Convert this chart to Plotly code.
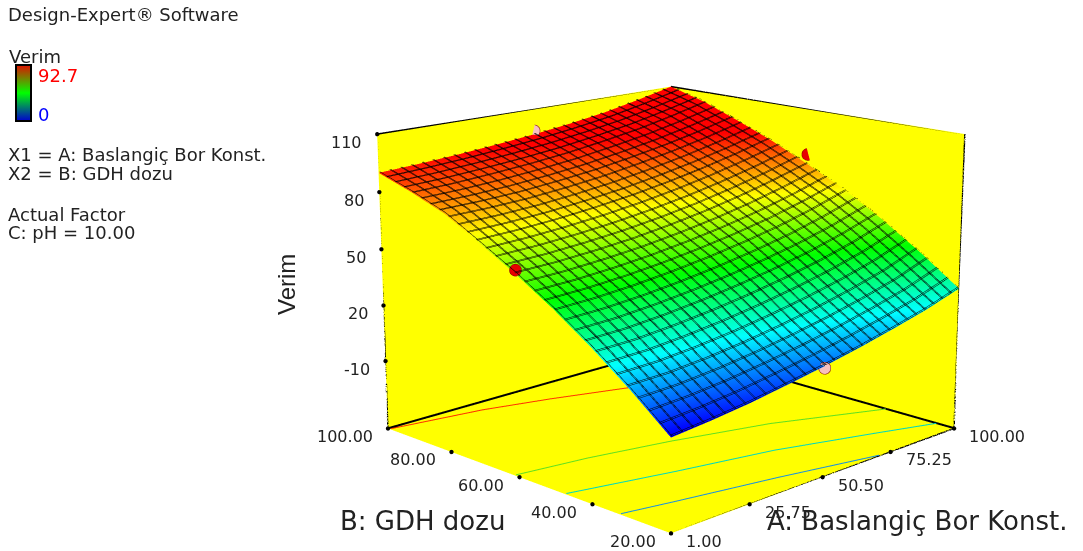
import plotly.graph_objects as go

# Factor grids
A_vals = [1, 13.4, 25.75, 38.1, 50.5, 62.9, 75.25, 87.6, 100]
B_vals = [20, 30, 40, 50, 60, 70, 80, 90, 100]
# Verim values: rows follow B_vals, columns follow A_vals
verim = [
    [-1.0, 0.9, 3.3, 6.5, 9.9, 13.8, 18.2, 23.0, 29.0],
    [15.5, 15.9, 17.6, 20.1, 23.35, 27.2, 31.7, 37.0, 44.0],
    [30.5, 31.0, 32.75, 35.1, 38.1, 41.7, 45.95, 51.2, 57.5],
    [44.0, 44.7, 46.2, 48.4, 51.2, 54.6, 58.6, 63.6, 69.5],
    [56.0, 56.5, 57.8, 59.6, 62.25, 65.5, 69.5, 74.2, 79.5],
    [66.6, 67.3, 68.6, 70.5, 72.9, 76.0, 79.7, 84.0, 88.9],
    [77.0, 77.2, 78.0, 79.7, 81.9, 84.9, 88.3, 92.3, 97.0],
    [84.0, 84.7, 86.0, 87.6, 89.7, 92.5, 95.7, 99.8, 104.5],
    [90.0, 91.0, 92.3, 94.0, 96.0, 98.5, 101.5, 105.5, 110.0],
]
A_ticks = [1, 25.75, 50.5, 75.25, 100]
A_labels = ["1.00", "25.75", "50.50", "75.25", "100.00"]
B_ticks = [20, 40, 60, 80, 100]
B_labels = ["20.00", "40.00", "60.00", "80.00", "100.00"]
Z_ticks = [-10, 20, 50, 80, 110]
Z_labels = ["-10", "20", "50", "80", "110"]
Z_FLOOR = -47
Z_TOP = 110
MESH_CELLS = 30

# Floor contours (A, B)
red_A, red_B = [1, 26.6, 44.9, 64.8, 100], [99, 95.3, 90.9, 85.2, 72]
green_A, green_B = [1, 20.8, 42.9, 70, 100], [61, 58.4, 54.2, 47.7, 37]
cyan_A, cyan_B = [1, 29, 56, 82.5, 100], [47, 41.2, 36.2, 29, 24]
blue_A, blue_B = [1, 15.4, 42.8, 71], [32.6, 30, 25.4, 20]

# Design points
pts_red_A, pts_red_B, pts_red_Z = [1, 100], [60, 60], [58, 85]
pts_pink_A, pts_pink_B, pts_pink_Z = [50.5, 50.5], [20, 100], [9, 98]

surface_scale = [[0, "#0000ff"], [0.25, "#00ffff"], [0.5, "#00ff00"], [0.75, "#ffff00"], [1, "#ff0000"]]
bar_scale = [[0, "#0000d0"], [0.5, "#00ff00"], [1, "#e01000"]]

FONT = "DejaVu Sans"
TXT = "#222222"
# The camera's field of view is fixed, so a long lens needs a tall canvas; only its window-sized part shows.
H = 1714
SHIFT = 573

fig = go.Figure()
flat = dict(ambient=1, diffuse=0, specular=0, roughness=1, fresnel=0)
fig.add_trace(go.Surface(x=A_vals, y=B_vals, z=verim, cmin=0, cmax=92.7, colorscale=surface_scale,
                         showscale=False, lighting=flat))
# mesh: contour lines are one pixel wide, so a close pair drawn just above the surface gives the bolder line
mesh_z = [[v + 0.5 for v in row] for row in verim]
for dA, dB in [(0, 0), (0.33, 0.27)]:
    fig.add_trace(go.Surface(
        x=A_vals, y=B_vals, z=mesh_z, hidesurface=True, showscale=False, hoverinfo="skip",
        contours=dict(
            x=dict(show=True, start=1 + dA, end=100, size=99 / MESH_CELLS, color="#000000", width=2),
            y=dict(show=True, start=20 + dB, end=100, size=80 / MESH_CELLS, color="#000000", width=2),
        ),
    ))

# box frame
fx = [1, 1, 100, None, 1, 1, 100, 100, None, 100, 100, None, 100, 100]
fy = [100, 20, 20, None, 100, 100, 100, 20, None, 20, 20, None, 100, 100]
fz = [Z_FLOOR, Z_FLOOR, Z_FLOOR, None, Z_FLOOR, Z_TOP, Z_TOP, Z_TOP, None, Z_TOP, Z_FLOOR, None, Z_FLOOR, Z_TOP]
fig.add_trace(go.Scatter3d(x=fx, y=fy, z=fz, mode="lines", line=dict(color="black", width=3),
                           showlegend=False, hoverinfo="skip"))
# back edges of the floor, kept just off the walls so they stay visible
fig.add_trace(go.Scatter3d(x=[1, 99.5, 99.5], y=[99.5, 99.5, 20], z=[Z_FLOOR + 0.6] * 3, mode="lines",
                           line=dict(color="black", width=4), showlegend=False, hoverinfo="skip"))

# tick dots
fig.add_trace(go.Scatter3d(
    x=A_ticks + [1] * len(B_ticks) + [1] * len(Z_ticks),
    y=[20] * len(A_ticks) + B_ticks + [100] * len(Z_ticks),
    z=[Z_FLOOR] * (len(A_ticks) + len(B_ticks)) + Z_ticks,
    mode="markers", marker=dict(size=2.5, color="black"), showlegend=False, hoverinfo="skip"))

for xs, ys, col in [(red_A, red_B, "#ff3000"), (green_A, green_B, "#60e020"),
                    (cyan_A, cyan_B, "#00d8c0"), (blue_A, blue_B, "#1890e0")]:
    fig.add_trace(go.Scatter3d(x=xs, y=ys, z=[Z_FLOOR + 0.5] * len(xs), mode="lines",
                               line=dict(color=col, width=2), showlegend=False, hoverinfo="skip"))

fig.add_trace(go.Scatter3d(x=pts_red_A, y=pts_red_B, z=pts_red_Z, mode="markers",
                           marker=dict(size=7, color="#e80000", line=dict(color="#800000", width=1)),
                           showlegend=False))
fig.add_trace(go.Scatter3d(x=pts_pink_A, y=pts_pink_B, z=pts_pink_Z, mode="markers",
                           marker=dict(size=7, color="#f8c0c0", line=dict(color="#800000", width=1)),
                           showlegend=False))

# colour key
fig.add_trace(go.Scatter3d(
    x=[1, 1], y=[20, 20], z=[0, 0], mode="markers", showlegend=False, hoverinfo="skip",
    marker=dict(size=0.1, opacity=0, color=[0, 92.7], cmin=0, cmax=92.7, colorscale=bar_scale, showscale=True,
                colorbar=dict(thickness=15, thicknessmode="pixels", len=56, lenmode="pixels",
                              x=16 / 1083, xanchor="left", y=1 - (93 + SHIFT) / H, yanchor="middle",
                              outlinecolor="black", outlinewidth=2, showticklabels=False, ticks="",
                              xpad=0, ypad=0))))

def tick_note(x, y, z, text, side):
    return dict(x=x, y=y, z=z, text=text, showarrow=False, xanchor=side, yanchor="middle",
                xshift=13 if side == "left" else -13, yshift=-8,
                font=dict(family=FONT, size=16, color=TXT))

tick_notes = (
    [tick_note(a, 20, Z_FLOOR, t, "left") for a, t in zip(A_ticks, A_labels)]
    + [tick_note(1, b, Z_FLOOR, t, "right") for b, t in zip(B_ticks, B_labels)]
    + [tick_note(1, 100, v, t, "right") for v, t in zip(Z_ticks, Z_labels)]
)

axis = dict(showgrid=False, zeroline=False, showline=False, showbackground=True, backgroundcolor="#ffff00",
            title=dict(text=""), showspikes=False, ticks="", showticklabels=False)
fig.update_layout(
    width=1083, height=H, margin=dict(l=0, r=0, t=0, b=0), paper_bgcolor="white", showlegend=False,
    font=dict(family=FONT),
    scene=dict(
        domain=dict(x=[259 / 1083, 1], y=[0, 1]),
        aspectmode="manual", aspectratio=dict(x=1, y=1, z=0.746),
        camera=dict(eye=dict(x=-3.47, y=-3.47, z=1.289), up=dict(x=0, y=0, z=1), center=dict(x=0, y=0, z=0)),
        xaxis=dict(axis, range=[1, 100], tickvals=A_ticks, ticktext=A_labels),
        yaxis=dict(axis, range=[20, 100], tickvals=B_ticks, ticktext=B_labels),
        zaxis=dict(axis, range=[Z_FLOOR, Z_TOP], tickvals=Z_ticks, ticktext=Z_labels),
        annotations=tick_notes,
    ),
)

def note(x, y, text, size=15, color=TXT, anchor="left", angle=0, family=FONT):
    fig.add_annotation(x=x / 1083, y=1 - (y + SHIFT) / H, xref="paper", yref="paper", text=text, showarrow=False,
                       xanchor=anchor, yanchor="middle", textangle=angle, font=dict(family=family, size=size, color=color))

note(6, 15, "Design-Expert® Software", 18)
note(7, 56, "Verim", 18)
note(36, 75, "92.7", 18, "#ff0000")
note(36, 114, "0", 18, "#0000ff")
note(6, 154, "X1 = A: Baslangiç Bor Konst.", 18)
note(6, 173, "X2 = B: GDH dozu", 18)
note(6, 214, "Actual Factor", 18)
note(6, 233, "C: pH = 10.00", 18)
note(338, 521, "B: GDH dozu", 26)
note(765, 521, "A: Baslangiç Bor Konst.", 26)
note(287, 285, "Verim", 24, anchor="center", angle=-90, family="Liberation Sans")

fig.write_html(
    "out.html", config=dict(displayModeBar=False),
    post_script=f"document.body.style.margin='0';document.body.style.overflow='hidden';"
                f"document.querySelector('.plotly-graph-div').style.marginTop='-{SHIFT}px';",
)
